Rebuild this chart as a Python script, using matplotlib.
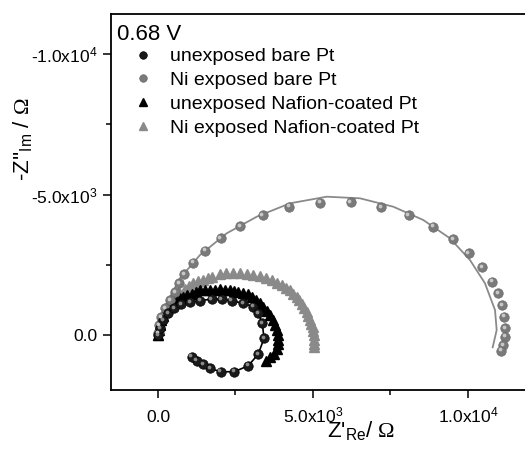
import numpy as np
import matplotlib
matplotlib.use('Agg')
import matplotlib.pyplot as plt
from matplotlib.transforms import offset_copy

plt.rcParams['font.family'] = ['Liberation Sans', 'DejaVu Sans']
plt.rcParams['mathtext.fontset'] = 'custom'
plt.rcParams['mathtext.rm'] = 'Liberation Sans'
plt.rcParams['mathtext.it'] = 'Liberation Sans:italic'
plt.rcParams['mathtext.sf'] = 'Liberation Serif'

# unexposed bare Pt (spheres + line)
bare_x = [0, 65, 161, 323, 516, 742, 1032, 1355, 1732, 2055, 2378, 2752, 3074,
          3236, 3365, 3420, 3236, 2913, 2461, 2023, 1677, 1461, 1248, 1087]
bare_y = [0, -249, -534, -783, -961, -1103, -1174, -1221, -1281, -1271, -1221,
          -1128, -1007, -772, -416, 117, 676, 1093, 1306, 1306, 1185, 1043, 915, 772]

# Ni exposed bare Pt (spheres) and its fit line
ni_bare_x = [0, 32, 113, 226, 387, 548, 677, 839, 1139, 1526, 2023, 2645, 3378,
             4236, 5226, 6217, 7194, 8088, 8881, 9526, 10023, 10452, 10775,
             10978, 11107, 11162, 11194, 11194, 11139, 11065]
ni_bare_y = [-71, -356, -641, -961, -1246, -1530, -1851, -2171, -2573, -3000,
             -3452, -3879, -4271, -4566, -4708, -4733, -4545, -4271, -3854,
             -3406, -2908, -2409, -1897, -1484, -1068, -651, -238, 60, 356, 559]
fit_x = [10, 280, 710, 1355, 2216, 3184, 4258, 5442, 6516, 7591, 8559, 9420,
         10065, 10549, 10872, 10926, 10797]
fit_y = [0, -1128, -2018, -2847, -3619, -4210, -4687, -4922, -4865, -4566,
         -4093, -3441, -2669, -1840, -890, -178, 438]

# unexposed Nafion-coated Pt (black triangles)
naf_x = [0, 30, 65, 110, 161, 220, 290, 380, 484, 600, 710, 816, 950, 1087,
         1220, 1355, 1510, 1677, 1840, 2000, 2160, 2323, 2460, 2590, 2750,
         2913, 3040, 3161, 3290, 3397, 3510, 3613, 3700, 3774, 3830, 3862,
         3881, 3870, 3830, 3740, 3613, 3484]
naf_y = [0, -180, -356, -520, -676, -830, -961, -1070, -1174, -1250, -1317,
         -1370, -1410, -1448, -1530, -1591, -1605, -1612, -1618, -1626, -1610,
         -1591, -1560, -1530, -1490, -1448, -1360, -1256, -1130, -997, -850,
         -701, -520, -345, -170, 11, 160, 310, 480, 666, 783, 925]

# Ni exposed Nafion-coated Pt (gray triangles)
ni_naf_x = [0, 32, 60, 97, 140, 194, 255, 323, 400, 484, 580, 677, 871, 1000,
            1139, 1300, 1461, 1600, 1732, 2000, 2210, 2429, 2640, 2861, 3080,
            3290, 3480, 3668, 3830, 3990, 4130, 4258, 4370, 4474, 4560, 4636,
            4720, 4797, 4850, 4903, 4950, 4991, 5015, 5033, 5042, 5042, 5030]
ni_naf_y = [0, -249, -390, -534, -680, -819, -960, -1103, -1230, -1352, -1450,
            -1530, -1637, -1750, -1851, -1910, -1968, -2020, -2064, -2160,
            -2190, -2207, -2200, -2182, -2140, -2089, -2020, -1947, -1860,
            -1769, -1680, -1591, -1470, -1352, -1230, -1114, -970, -819, -670,
            -523, -400, -285, -140, 11, 160, 310, 427]

labels = ['unexposed bare Pt', 'Ni exposed bare Pt',
          'unexposed Nafion-coated Pt', 'Ni exposed Nafion-coated Pt']
x_ticks = [0, 5000, 10000]
x_ticklabels = ['0.0', '5.0x10$^{3}$', '1.0x10$^{4}$']
y_ticks = [0, -5000, -10000]
y_ticklabels = ['0.0', '-5.0x10$^{3}$', '-1.0x10$^{4}$']

fig = plt.figure(figsize=(5.25, 4.62), dpi=100)
ax = fig.add_axes([0.2114, 0.1558, 0.7924, 0.8139])

gray = '#8a8a8a'
hl = offset_copy(ax.transData, fig=fig, x=-0.9, y=0.9, units='points')

# fit line and connecting line
ax.plot(fit_x, fit_y, '-', color=gray, lw=1.3, zorder=2)
ax.plot(bare_x, bare_y, '-', color='black', lw=1.2, zorder=2)

ax.plot(ni_naf_x, ni_naf_y, '^', color=gray, ms=7, mec=gray, ls='none',
        zorder=3, label=labels[3])
ax.plot(naf_x, naf_y, '^', color='black', ms=7, ls='none', zorder=4,
        label=labels[2])

ax.plot(ni_bare_x, ni_bare_y, 'o', color='#7a7a7a', mec='#6a6a6a', mew=0.5,
        ms=6.8, ls='none', zorder=5, label=labels[1])
ax.plot(ni_bare_x, ni_bare_y, 'o', color='#c8c8c8', mec='none', ms=2.7,
        ls='none', zorder=6, transform=hl)
ax.plot(bare_x, bare_y, 'o', color='#1a1a1a', mec='black', mew=0.5, ms=6.8,
        ls='none', zorder=5, label=labels[0])
ax.plot(bare_x, bare_y, 'o', color='#8a8a8a', mec='none', ms=2.7, ls='none',
        zorder=6, transform=hl)

ax.set_xlim(-1516, 11904)
ax.set_ylim(1957, -11424)

ax.set_xticks(x_ticks)
ax.set_xticklabels(x_ticklabels)
ax.set_xticks([2500, 7500], minor=True)
ax.set_yticks(y_ticks)
ax.set_yticklabels(y_ticklabels)
ax.set_yticks([-2500, -7500], minor=True)

ax.tick_params(which='major', direction='out', length=6, width=1.1,
               labelsize=12.5)
ax.tick_params(which='minor', direction='out', length=3.5, width=1.1)
ax.tick_params(axis='x', which='major', pad=17)
ax.tick_params(axis='y', which='major', pad=4)
for t in ax.get_xticklabels():
    t.set_verticalalignment('baseline')
for s in ax.spines.values():
    s.set_linewidth(1.3)
ax.spines['right'].set_visible(False)

ax.set_xlabel("Z'$_{\\mathrm{Re}}$/ $\\mathsf{\\Omega}$", fontsize=16,
              va='top')
ax.xaxis.set_label_coords(0.601, -0.077)
ax.set_ylabel("-Z''$_{\\mathrm{Im}}$ / $\\mathsf{\\Omega}$", fontsize=16,
              va='center')
ax.yaxis.set_label_coords(-0.2115, 0.667)

ax.text(0.014, 0.931, '0.68 V', transform=ax.transAxes, fontsize=16,
        va='baseline', ha='left')

h, l = ax.get_legend_handles_labels()
order = [l.index(s) for s in labels]
ax.legend([h[i] for i in order], [l[i] for i in order], loc='upper left',
          bbox_to_anchor=(0.053, 0.91), frameon=False, fontsize=14,
          handlelength=1.0, handletextpad=0.9, labelspacing=0.32,
          borderpad=0, borderaxespad=0, markerscale=0.8)

fig.savefig('out.png', dpi=100)
